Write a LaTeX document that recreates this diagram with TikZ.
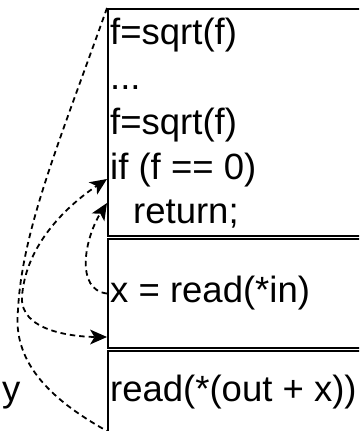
\documentclass[tikz,border=0pt]{standalone}
\usepackage{fontspec}
\setmainfont{Liberation Sans}
\begin{document}
\begin{tikzpicture}[x=1pt,y=1pt,
  box/.style={draw=black, line width=2pt, minimum width=420pt, anchor=north west, inner sep=0pt},
  code/.style={anchor=base west, inner sep=0pt, font=\fontsize{36.5}{43}\selectfont},
  link/.style={draw=black, line width=1.8pt, dash pattern=on 5.5pt off 4pt},
  headfill/.style={fill=black, draw=none}]
\useasboundingbox (0,0) rectangle (359,-431);
\clip (0,0) rectangle (359,-431);
\node[box, minimum height=227pt] (b1) at (107,-8) {};
\node[box, minimum height=109pt] (b2) at (107,-238) {};
\node[box, minimum height=100pt] (b3) at (107,-350) {};
\node[code] (t1) at (110,-44) {f=sqrt(f)};
\node[code] (t2) at (110,-89) {...};
\node[code] (t3) at (110,-134.5) {f=sqrt(f)};
\node[code] (t4) at (110,-179.5) {if (f == 0)};
\node[code] (t5) at (133,-223) {return;};
\node[code] (t6) at (110,-302) {x = read(*in)};
\node[code] (t7) at (110,-401) {read(*(out + x))};
\node[code] (ly) at (2,-401) {y};
\coordinate (pif) at (107,-179);
\coordinate (pret) at (107,-203);
\coordinate (pbot) at (107,-337);
\coordinate (pend) at (107,-431);
\draw[link] (b1.north west) .. controls (60,-140) and (22,-230) .. (18,-310)
  .. controls (12,-365) and (55,-402) .. (pend);
\draw[link, shorten <=9pt, shorten >=9pt] (pif) .. controls (60,-210) and (25,-250) .. (22,-297)
  .. controls (20,-330) and (70,-337) .. (pbot);
\draw[link, shorten >=9pt] (b2.west) .. controls (75,-290) and (84,-238) .. (pret);
\fill[headfill, shift={(pif)}, rotate=34] (0,0) -- (-17,7.5) -- (-12.5,0) -- (-17,-7.5) -- cycle;
\fill[headfill, shift={(pbot)}, rotate=0] (0,0) -- (-17,7.5) -- (-12.5,0) -- (-17,-7.5) -- cycle;
\fill[headfill, shift={(pret)}, rotate=58] (0,0) -- (-17,7.5) -- (-12.5,0) -- (-17,-7.5) -- cycle;
\end{tikzpicture}
\end{document}
